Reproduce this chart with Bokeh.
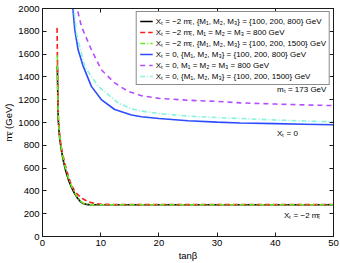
from bokeh.plotting import figure
from bokeh.models import Legend, LegendItem, Label, LinearAxis, Range1d, FixedTicker
from bokeh.embed import file_html
from bokeh.resources import INLINE

# ---- data ----
x_ticks = [0, 10, 20, 30, 40, 50]
y_ticks = [0, 200, 400, 600, 800, 1000, 1200, 1400, 1600, 1800, 2000]

# X_t = -2 m_stop, {M1,M2,M3} = {100,200,800}
tb_black = [2.55, 2.62, 2.7, 2.85, 3.0, 3.3, 3.6, 4.0, 4.5, 5.0, 5.5, 6.0, 6.5, 7.0, 7.5, 8.0, 10, 20, 30, 40, 50]
m_black = [1500, 1250, 1030, 920, 840, 740, 660, 575, 492, 428, 378, 338, 306, 289, 282, 280, 279, 279, 279, 279, 279]
# X_t = -2 m_stop, M1=M2=M3=800
tb_red = [2.5, 2.58, 2.66, 2.75, 2.9, 3.1, 3.4, 3.8, 4.2, 4.6, 5.0, 5.5, 6.1, 6.7, 7.3, 7.9, 8.4, 9.0, 10, 12, 20, 30, 40, 50]
m_red = [1830, 1500, 1200, 1020, 920, 830, 740, 650, 570, 505, 450, 400, 365, 338, 320, 306, 297, 289, 283, 280, 280, 280, 280, 280]
# X_t = -2 m_stop, {M1,M2,M3} = {100,200,1500}
tb_green = [2.55, 2.62, 2.7, 2.85, 3.0, 3.3, 3.6, 4.0, 4.5, 5.0, 5.5, 6.0, 6.5, 7.0, 7.5, 8.0, 10, 20, 30, 40, 50]
m_green = [1590, 1300, 1060, 940, 860, 755, 675, 590, 505, 440, 386, 343, 311, 292, 283, 280, 279, 279, 279, 279, 279]
# X_t = 0, {M1,M2,M3} = {100,200,800}
tb_blue = [5.15, 5.55, 6.12, 7.0, 8.4, 10.1, 12.4, 15.3, 17, 20, 25, 30, 34, 40, 45, 50]
m_blue = [2040, 1812, 1638, 1492, 1317, 1201, 1114, 1066, 1050, 1035, 1015, 1003, 996, 990, 985, 980]
# X_t = 0, M1=M2=M3=800
tb_purple = [5.7, 6.7, 8.4, 10.1, 12.4, 14.7, 17, 20, 25, 30, 34, 40, 45, 50]
m_purple = [2050, 1841, 1638, 1463, 1347, 1273, 1235, 1212, 1195, 1185, 1172, 1162, 1155, 1148]
# X_t = 0, {M1,M2,M3} = {100,200,1500}
tb_cyan = [5.3, 5.83, 7.26, 9.55, 13, 15.3, 17, 20, 25, 30, 34, 40, 45, 50]
m_cyan = [2050, 1783, 1492, 1317, 1172, 1120, 1100, 1078, 1057, 1043, 1035, 1022, 1013, 1006]

labels = [
    "X\u209c = \u22122 m\u209c\u0303, {M\u2081, M\u2082, M\u2083} = {100, 200, 800} GeV",
    "X\u209c = \u22122 m\u209c\u0303, M\u2081 = M\u2082 = M\u2083 = 800 GeV",
    "X\u209c = \u22122 m\u209c\u0303, {M\u2081, M\u2082, M\u2083} = {100, 200, 1500} GeV",
    "X\u209c = 0, {M\u2081, M\u2082, M\u2083} = {100, 200, 800} GeV",
    "X\u209c = 0, M\u2081 = M\u2082 = M\u2083 = 800 GeV",
    "X\u209c = 0, {M\u2081, M\u2082, M\u2083} = {100, 200, 1500} GeV",
]

FONT = "Liberation Sans"
DARK = "#1a1a1a"

p = figure(width=340, height=263, x_range=Range1d(0, 50), y_range=Range1d(0, 2000),
           output_backend="svg", toolbar_location=None,
           min_border_left=41, min_border_right=7, min_border_top=8, min_border_bottom=25)
p.grid.visible = False
p.outline_line_color = DARK

r_black = p.line(tb_black, m_black, line_color="black", line_width=1.6)
r_red = p.line(tb_red, m_red, line_color="#ff1a1a", line_width=1.6, line_dash="5 3")
r_green = p.line(tb_green, m_green, line_color="#66ee22", line_width=1.6, line_dash="5 2 1 2")
r_blue = p.line(tb_blue, m_blue, line_color="#2c4cff", line_width=1.6)
r_purple = p.line(tb_purple, m_purple, line_color="#b44cff", line_width=1.6, line_dash="5 4")
r_cyan = p.line(tb_cyan, m_cyan, line_color="#88f4dc", line_width=1.6, line_dash="5 2 1 2")

for ax, ticks in ((p.xaxis[0], x_ticks), (p.yaxis[0], y_ticks)):
    ax.ticker = FixedTicker(ticks=ticks)
    ax.major_tick_in = 4
    ax.major_tick_out = 0
    ax.minor_tick_in = 0
    ax.minor_tick_out = 0
    ax.axis_line_color = DARK
    ax.major_tick_line_color = DARK
    ax.major_label_text_font = FONT
    ax.major_label_text_font_size = "9.5px"
    ax.major_label_text_color = "black"
    ax.major_label_standoff = 3
    ax.axis_label_text_font = FONT
    ax.axis_label_text_font_style = "normal"
    ax.axis_label_text_font_size = "9.5px"
    ax.axis_label_text_color = "black"
    ax.axis_label_standoff = 1

p.xaxis[0].axis_label = "tan\u03b2"
p.yaxis[0].axis_label = "m\u209c\u0303 (GeV)"

for loc, ticks in (("above", x_ticks), ("right", y_ticks)):
    ax = LinearAxis(ticker=FixedTicker(ticks=ticks), major_label_text_font_size="1px",
                    major_label_text_color=None,
                    major_label_standoff=0, major_tick_in=4, major_tick_out=0,
                    minor_tick_in=0, minor_tick_out=0, axis_line_color=DARK,
                    major_tick_line_color=DARK)
    p.add_layout(ax, loc)

legend = Legend(items=[
    LegendItem(label=labels[0], renderers=[r_black]),
    LegendItem(label=labels[1], renderers=[r_red]),
    LegendItem(label=labels[2], renderers=[r_green]),
    LegendItem(label=labels[3], renderers=[r_blue]),
    LegendItem(label=labels[4], renderers=[r_purple]),
    LegendItem(label=labels[5], renderers=[r_cyan]),
], location="top_right", label_text_font=FONT, label_text_font_size="8px",
    label_text_color="black",
    label_height=10, glyph_height=10, glyph_width=13, label_standoff=3,
    padding=3, spacing=0, margin=3, border_line_color=DARK, border_line_width=1,
    background_fill_color="white", background_fill_alpha=1)
p.add_layout(legend)

for txt, x, y in (("m\u209c = 173 GeV", 40.3, 1290),
                  ("X\u209c = 0", 40.3, 900),
                  ("X\u209c = \u22122 m\u209c\u0303", 41.5, 180)):
    p.add_layout(Label(x=x, y=y, text=txt, text_font=FONT, text_font_size="8px",
                       text_baseline="middle", text_color="black"))

open("out.html", "w").write(file_html(p, INLINE))
